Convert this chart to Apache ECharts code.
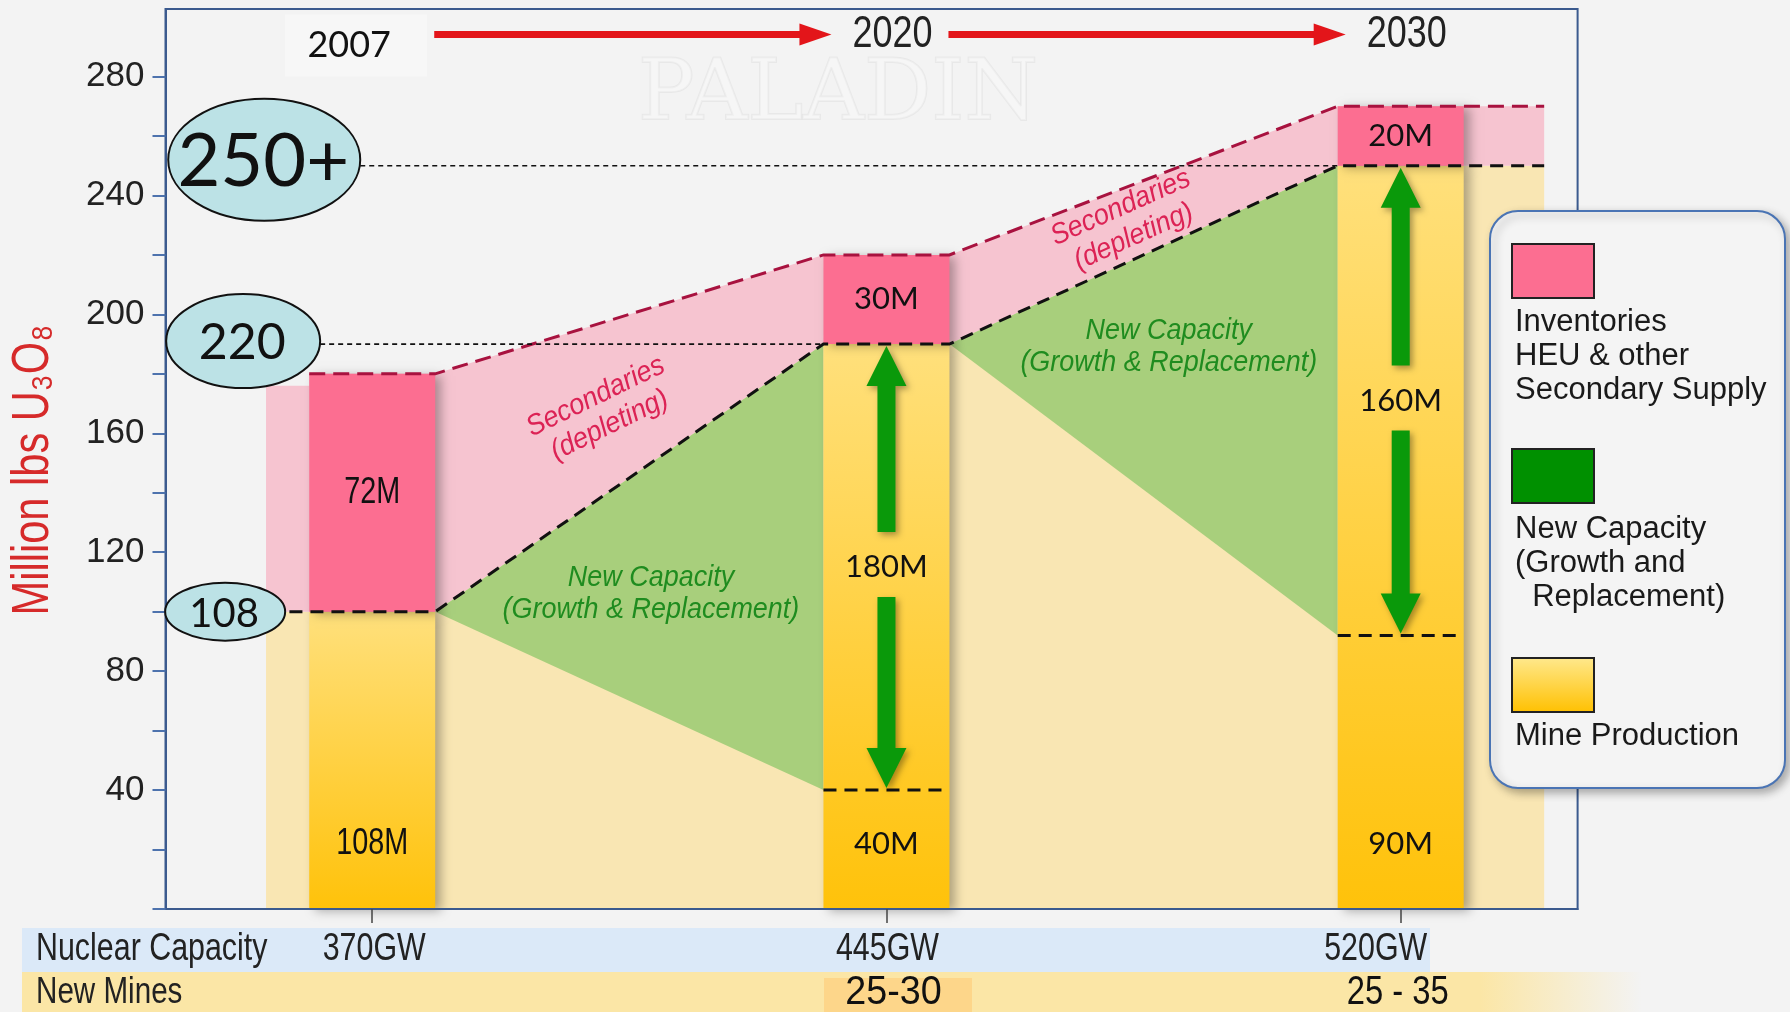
<!DOCTYPE html>
<html>
<head>
<meta charset="utf-8">
<title>Uranium supply outlook</title>
<script src="https://cdn.jsdelivr.net/npm/echarts@6/dist/echarts.min.js"></script>
<style>
  html, body { margin: 0; padding: 0; background: #f3f3f3; }
  #chart { width: 1790px; height: 1012px; }
</style>
</head>
<body>
<div id="chart"></div>
<script>
// chart values (Million lbs U3O8)
var years = ['2007', '2020', '2030'];
var mineTop = [100, 40, 92];          // top of existing mine production
var primaryTop = [100, 190, 250];     // mine + new capacity
var totalTop = [180, 220, 270];       // incl. secondary supply
var leftPinkTop = 176;
var mineLabels = ['108M', '40M', '90M'];
var newCapLabels = ['', '180M', '160M'];
var secLabels = ['72M', '30M', '20M'];
var capacity = ['370GW', '445GW', '520GW'];
var newMines = ['', '25-30', '25 - 35'];
var callouts = [250, 190, 100];
var calloutLabels = ['250+', '220', '108'];
var yTicks = [40, 80, 120, 160, 200, 240, 280];
var minorTicks = [0, 20, 40, 60, 80, 100, 120, 140, 160, 180, 200, 220, 240, 260, 280];

var ARIAL = '"Liberation Sans", Arial, sans-serif';
var ROUND = 'Lato, "Open Sans", sans-serif';
var NARROW_X = 0.8;   // narrow look: regular face squeezed sideways

var HALF = 0.1225, EXT_L = -0.2065, EXT_R = 2.279;
var TOP_V = 294.1, MINE_LABEL_V = 22;

var chart = echarts.init(document.getElementById('chart'));

// points along a stepped edge: flat over each bar, sloped between bars
function edge(vals, first){
    var pts = [];
    for (var i = 0; i < vals.length; i++) {
        var l = i === 0 ? first : i - HALF;
        var r = i === vals.length - 1 ? EXT_R : i + HALF;
        pts.push([l, vals[i]], [r, vals[i]]);
    }
    return pts;
}
function toPx(api, pts){
    return pts.map(function(p){ return api.coord(p); });
}

function renderAreas(params, api){
    var top = edge(primaryTop, EXT_L);
    var yellow = [[EXT_L, 0]].concat(top, [[EXT_R, 0]]);
    var upper = [[EXT_L, leftPinkTop], [-HALF, leftPinkTop]].concat(edge(totalTop, -HALF));
    var pink = upper.concat(top.slice().reverse());
    var kids = [
        {type: 'polygon', shape: {points: toPx(api, yellow)}, style: {fill: '#f9e6b3'}},
        {type: 'polygon', shape: {points: toPx(api, pink)}, style: {fill: '#f6c4d0'}}
    ];
    for (var i = 0; i < years.length - 1; i++) {
        var tri = [[i + HALF, primaryTop[i]], [i + 1 - HALF, primaryTop[i + 1]], [i + 1 - HALF, mineTop[i + 1]]];
        kids.push({type: 'polygon', shape: {points: toPx(api, tri)}, style: {fill: '#a8cf7c'}});
    }
    return {type: 'group', children: kids};
}

function renderBar(params, api){
    var i = api.value(0);
    var l = api.coord([i - HALF, 0]), r = api.coord([i + HALF, 0]);
    var p = api.coord([i, api.value(2)]), t = api.coord([i, api.value(3)]);
    var w = r[0] - l[0];
    var shadow = {shadowBlur: 10, shadowOffsetX: 6, shadowOffsetY: 2, shadowColor: 'rgba(0,0,0,0.3)'};
    return {type: 'group', children: [
        {type: 'rect', shape: {x: l[0], y: p[1], width: w, height: l[1] - p[1]},
         style: Object.assign({fill: new echarts.graphic.LinearGradient(0, 0, 0, 1, [
             {offset: 0, color: '#ffe07c'}, {offset: 1, color: '#ffc20a'}])}, shadow)},
        {type: 'rect', shape: {x: l[0], y: t[1], width: w, height: p[1] - t[1]},
         style: Object.assign({fill: '#fc6e91'}, shadow)}
    ]};
}

function renderLines(params, api){
    var kids = [];
    var red = [[-HALF, totalTop[0]]].concat(edge(totalTop, -HALF).slice(1));
    kids.push({type: 'polyline', shape: {points: toPx(api, red)},
        style: {stroke: '#a8123f', lineWidth: 3, lineDash: [16, 8], fill: null}});
    var blk = [[-0.161, primaryTop[0]]].concat(edge(primaryTop, -0.161).slice(1));
    kids.push({type: 'polyline', shape: {points: toPx(api, blk)},
        style: {stroke: '#111', lineWidth: 3, lineDash: [13, 8], fill: null}});
    for (var i = 1; i < years.length; i++) {
        var a = api.coord([i - HALF, mineTop[i]]), b = api.coord([i + HALF, mineTop[i]]);
        kids.push({type: 'line', shape: {x1: a[0], y1: a[1], x2: b[0], y2: b[1]},
            style: {stroke: '#111', lineWidth: 3, lineDash: [13, 8]}});
    }
    return {type: 'group', children: kids};
}

function arrow(cx, y0, y1){
    // tail at y0, tip at y1
    var SW = 18, HW = 40, HL = 40, d = y1 > y0 ? 1 : -1;
    var hb = y1 - d * HL;
    return {type: 'polygon', shape: {points: [
        [cx, y1], [cx + HW / 2, hb], [cx + SW / 2, hb], [cx + SW / 2, y0],
        [cx - SW / 2, y0], [cx - SW / 2, hb], [cx - HW / 2, hb]]},
        style: {fill: '#0a990a', shadowBlur: 6, shadowOffsetX: 3, shadowOffsetY: 3, shadowColor: 'rgba(0,0,0,0.35)'}};
}

function txt(x, y, s, size, family, extra){
    return {type: 'text', x: x, y: y, style: Object.assign({text: s, fontSize: size, fontFamily: family,
        fill: '#111', align: 'center', verticalAlign: 'middle'}, extra || {})};
}
function narrow(x, y, s, size, extra, sx){
    var t = txt(x, y, s, size, ARIAL, extra);
    t.scaleX = sx || NARROW_X;
    return t;
}

function renderBarLabels(params, api){
    var i = api.value(0);
    var kids = [];
    var s = api.coord([i, (primaryTop[i] + totalTop[i]) / 2]);
    var m = api.coord([i, MINE_LABEL_V]);
    if (i === 0) {
        kids.push(narrow(s[0], s[1], secLabels[i], 36));
        kids.push(narrow(m[0], m[1], mineLabels[i], 36));
    } else {
        kids.push(txt(s[0], s[1], secLabels[i], 31, ROUND));
        kids.push(txt(m[0], m[1], mineLabels[i], 31, ROUND));
    }
    if (newCapLabels[i]) {
        var c = api.coord([i, (mineTop[i] + primaryTop[i]) / 2]);
        var pt = api.coord([i, primaryTop[i]]), mt = api.coord([i, mineTop[i]]);
        kids.push(arrow(c[0], c[1] - 35, pt[1] + 2));
        kids.push(arrow(c[0], c[1] + 30, mt[1] - 2));
        kids.push(txt(c[0], c[1], newCapLabels[i], 31, ROUND));
    }
    return {type: 'group', children: kids};
}

// annotation anchors (category units, axis value), rotation in degrees
var notes = [
    {x: 0.448, v: 167.5, rot: 26, text: 'Secondaries\n(depleting)', color: '#dc2355'},
    {x: 1.468, v: 231, rot: 24, text: 'Secondaries\n(depleting)', color: '#dc2355'},
    {x: 0.542, v: 106, rot: 0, text: 'New Capacity\n(Growth & Replacement)', color: '#1f8c1f'},
    {x: 1.549, v: 189.2, rot: 0, text: 'New Capacity\n(Growth & Replacement)', color: '#1f8c1f'}
];
function renderNotes(params, api){
    var kids = notes.map(function(n){
        var p = api.coord([n.x, n.v]);
        var t = txt(p[0], p[1], n.text, 29, ARIAL, {fill: n.color, fontStyle: 'italic', lineHeight: 32});
        t.rotation = n.rot * Math.PI / 180;
        t.scaleX = 0.93;
        return t;
    });
    return {type: 'group', children: kids};
}

var calloutStyle = [
    {x: -0.21, dy: -6, rx: 96, ry: 61, size: 74, target: 2},
    {x: -0.251, dy: -3, rx: 77, ry: 47, size: 50, target: 1},
    {x: -0.286, dy: 0, rx: 60, ry: 29, size: 40, target: null}
];
function renderCallout(params, api){
    var i = api.value(0), v = api.value(1), cs = calloutStyle[i];
    var c = api.coord([cs.x, v]);
    var kids = [];
    if (cs.target !== null) {
        var e = api.coord([cs.target - HALF, v]);
        kids.push({type: 'line', shape: {x1: c[0] + cs.rx, y1: c[1], x2: e[0], y2: e[1]},
            style: {stroke: '#111', lineWidth: 1.6, lineDash: [5, 4]}});
    }
    kids.push({type: 'ellipse', shape: {cx: c[0], cy: c[1] + cs.dy, rx: cs.rx, ry: cs.ry},
        style: {fill: '#bce2e6', stroke: '#111', lineWidth: 2}});
    kids.push(txt(c[0] - 1, c[1] + cs.dy + 2, calloutLabels[i], cs.size, ROUND));
    return {type: 'group', children: kids};
}

function renderTimeline(params, api){
    var i = api.value(0);
    var c = api.coord([i, TOP_V]);
    var kids = [];
    if (i === 0) {
        kids.push({type: 'rect', shape: {x: c[0] - 87, y: c[1] - 20, width: 142, height: 62}, style: {fill: '#f7f7f7'}});
        kids.push(txt(c[0] - 23, c[1] + 11, years[i], 36, ROUND));
    } else {
        kids.push(narrow(c[0] + 6, c[1], years[i], 45, {fill: '#222'}));
    }
    if (i < years.length - 1) {
        var n = api.coord([i + 1, TOP_V]);
        var x0 = c[0] + 62, x1 = n[0] - 55, y = c[1];
        kids.push({type: 'line', shape: {x1: x0, y1: y, x2: x1 - 28, y2: y}, style: {stroke: '#e3151a', lineWidth: 7}});
        kids.push({type: 'polygon', shape: {points: [[x1, y], [x1 - 32, y - 11], [x1 - 32, y + 11]]}, style: {fill: '#e3151a'}});
    }
    return {type: 'group', children: kids};
}

var capShift = [2, 1, -25], mineShift = [0, 7, -3], mineScale = [0.8, 0.92, 0.8];
function renderTable(params, api){
    var i = api.value(0);
    var c = api.coord([i, 0]);
    var kids = [narrow(c[0] + capShift[i], c[1] + 41, capacity[i], 38, {fill: '#222'})];
    if (newMines[i]) kids.push(narrow(c[0] + mineShift[i], c[1] + 84, newMines[i], 41, {fill: '#111'}, mineScale[i]));
    return {type: 'group', children: kids};
}

var perYear = years.map(function(y, i){ return [i, mineTop[i], primaryTop[i], totalTop[i]]; });

var legendText = {fontSize: 31, fontFamily: ARIAL, fill: '#1a1a1a', lineHeight: 34, verticalAlign: 'top'};

var option = {
    backgroundColor: '#f3f3f3',
    animation: false,
    grid: {left: 165.5, right: 212.4, top: 9, bottom: 103, show: true,
        borderColor: '#3b5a8e', borderWidth: 2, backgroundColor: 'transparent'},
    xAxis: {type: 'value', min: -0.402, max: 2.344, z: 10,
        axisLine: {show: true, onZero: false, lineStyle: {color: '#3b5a8e', width: 2}},
        axisTick: {show: true, customValues: [0, 1, 2], length: 14, lineStyle: {color: '#444', width: 1.5}},
        axisLabel: {show: false}, splitLine: {show: false}},
    yAxis: {type: 'value', min: 0, max: 302.7, z: 10,
        axisLine: {show: true, onZero: false, lineStyle: {color: '#3b5a8e', width: 2}},
        axisTick: {show: true, customValues: minorTicks, length: 13, lineStyle: {color: '#4d72ad', width: 2}},
        axisLabel: {customValues: yTicks, margin: 21, color: '#222', fontSize: 35, fontFamily: ARIAL},
        splitLine: {show: false}},
    graphic: [
        {type: 'text', z: 0, x: 838, y: 97, style: {text: 'PALADIN', fontSize: 84, fontFamily: '"DejaVu Serif", serif',
            fill: 'rgba(255,255,255,0.3)', stroke: 'rgba(0,0,0,0.045)', lineWidth: 2, align: 'center', verticalAlign: 'middle'}},
        {type: 'text', x: 34, y: 470, rotation: Math.PI / 2, scaleX: NARROW_X, style: {text: 'Million lbs U\u2083O\u2088',
            fontSize: 52, fontFamily: ARIAL, fill: '#d62a2a', align: 'center', verticalAlign: 'middle'}},
        {type: 'rect', shape: {x: 22, y: 928, width: 1408, height: 44}, style: {fill: '#dbe9f8'}},
        {type: 'rect', shape: {x: 22, y: 972, width: 1620, height: 40}, style: {fill: new echarts.graphic.LinearGradient(0, 0, 1, 0, [
            {offset: 0, color: '#fbe6a6'}, {offset: 0.9, color: '#fbe6a6'}, {offset: 1, color: 'rgba(251,230,166,0)'}])}},
        {type: 'rect', shape: {x: 824, y: 978, width: 148, height: 34}, style: {fill: '#fdd68a'}},
        {type: 'text', x: 36, y: 950, scaleX: NARROW_X, style: {text: 'Nuclear Capacity', fontSize: 38, fontFamily: ARIAL, fill: '#222', verticalAlign: 'middle'}},
        {type: 'text', x: 36, y: 993, scaleX: NARROW_X, style: {text: 'New Mines', fontSize: 37, fontFamily: ARIAL, fill: '#222', verticalAlign: 'middle'}},
        {type: 'rect', z: 100, shape: {x: 1490, y: 211, width: 295, height: 577, r: 28},
         style: {fill: '#f4f4f4', stroke: '#4a74b4', lineWidth: 2, shadowBlur: 8, shadowOffsetX: 4, shadowOffsetY: 4, shadowColor: 'rgba(0,0,0,0.3)'}},
        {type: 'rect', z: 101, shape: {x: 1512, y: 244, width: 82, height: 54}, style: {fill: '#fc6e91', stroke: '#222', lineWidth: 2}},
        {type: 'text', z: 101, x: 1515, y: 305, style: Object.assign({text: 'Inventories\nHEU & other\nSecondary Supply'}, legendText)},
        {type: 'rect', z: 101, shape: {x: 1512, y: 449, width: 82, height: 54}, style: {fill: '#009000', stroke: '#222', lineWidth: 2}},
        {type: 'text', z: 101, x: 1515, y: 512, style: Object.assign({text: 'New Capacity\n(Growth and\n  Replacement)'}, legendText)},
        {type: 'rect', z: 101, shape: {x: 1512, y: 658, width: 82, height: 54}, style: {stroke: '#222', lineWidth: 2,
            fill: new echarts.graphic.LinearGradient(0, 0, 0, 1, [{offset: 0, color: '#ffe98e'}, {offset: 1, color: '#ffc000'}])}},
        {type: 'text', z: 101, x: 1515, y: 719, style: Object.assign({text: 'Mine Production'}, legendText)}
    ],
    series: [
        {type: 'custom', name: 'areas', clip: false, data: [[0, 0]], renderItem: renderAreas},
        {type: 'custom', name: 'bars', clip: false, data: perYear, renderItem: renderBar},
        {type: 'custom', name: 'lines', clip: false, data: [[0, 0]], renderItem: renderLines},
        {type: 'custom', name: 'barLabels', clip: false, data: perYear, renderItem: renderBarLabels},
        {type: 'custom', name: 'notes', clip: false, data: [[0, 0]], renderItem: renderNotes},
        {type: 'custom', name: 'callouts', clip: false, z: 20,
         data: callouts.map(function(v, i){ return [i, v]; }), renderItem: renderCallout},
        {type: 'custom', name: 'timeline', clip: false, data: perYear, renderItem: renderTimeline},
        {type: 'custom', name: 'table', clip: false, data: perYear, renderItem: renderTable}
    ]
};
chart.setOption(option);
</script>
</body>
</html>
